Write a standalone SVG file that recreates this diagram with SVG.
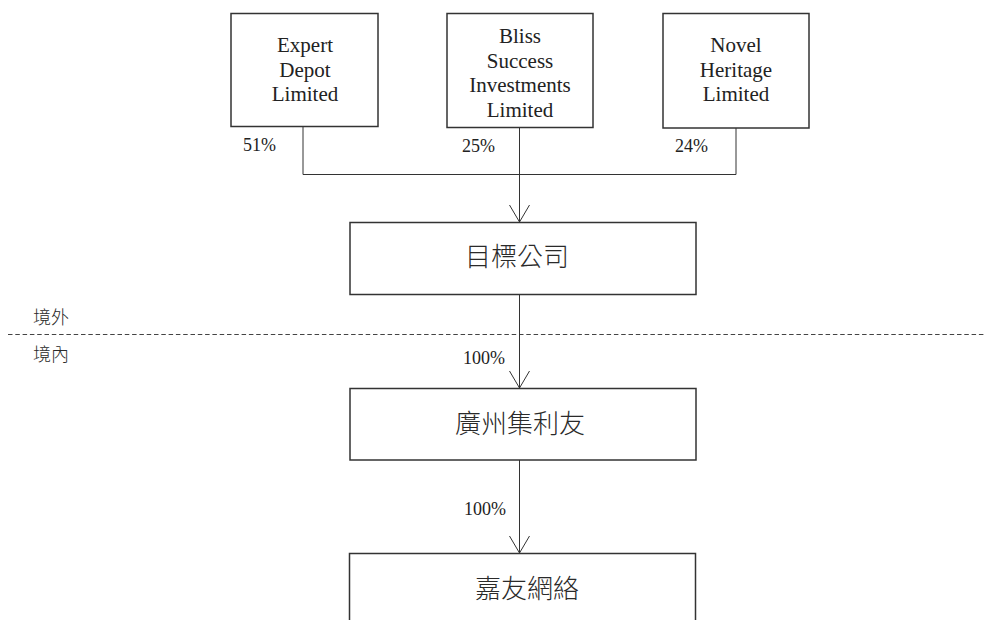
<svg xmlns="http://www.w3.org/2000/svg" width="986" height="620" viewBox="0 0 986 620">
<style>
.box{fill:#fff;stroke:#333;stroke-width:1.5}
.en{font-family:"Liberation Serif","Noto Serif",serif;font-size:21px;fill:#222;text-anchor:middle}
.pct{font-family:"Liberation Serif","Noto Serif",serif;font-size:18px;fill:#222}
.cjk{font-family:"Liberation Serif","Noto Sans CJK TC",serif;font-size:26px;font-weight:300;fill:#2a2a2a;text-anchor:middle}
.side{font-family:"Liberation Serif","Noto Sans CJK TC",serif;font-size:18px;font-weight:300;fill:#2a2a2a}
.ln{fill:none;stroke:#333;stroke-width:1}
</style>
<defs>
<marker id="v" markerUnits="userSpaceOnUse" markerWidth="40" markerHeight="40" viewBox="-20 -20 40 40" refX="0" refY="0" orient="auto">
<path d="M-17,-10 L0,0 L-17,10" fill="none" stroke="#333" stroke-width="1"/>
</marker>
</defs>
<g id="divider">
<line x1="8" y1="334.5" x2="986" y2="334.5" stroke="#444" stroke-width="1" stroke-dasharray="4.5 2.8"/>
<text class="side" x="33" y="324">境外</text>
<text class="side" x="33" y="361">境內</text>
</g>
<g id="connectors">
<polyline class="ln" points="303,127 303,174.5 736,174.5 736,128"/>
<line class="ln" x1="519.5" y1="128" x2="519.5" y2="222" marker-end="url(#v)"/>
<line class="ln" x1="519.5" y1="294" x2="519.5" y2="388" marker-end="url(#v)"/>
<line class="ln" x1="519.5" y1="460" x2="519.5" y2="553" marker-end="url(#v)"/>
<text class="pct" x="243" y="151">51%</text>
<text class="pct" x="462" y="152">25%</text>
<text class="pct" x="675" y="152">24%</text>
<text class="pct" x="463" y="364">100%</text>
<text class="pct" x="464" y="515">100%</text>
</g>
<g id="expert">
<rect class="box" x="231" y="13.5" width="147" height="113"/>
<text class="en" x="305" y="52">Expert</text>
<text class="en" x="305" y="76.5">Depot</text>
<text class="en" x="305" y="101">Limited</text>
</g>
<g id="bliss">
<rect class="box" x="447" y="13.5" width="146" height="114"/>
<text class="en" x="520" y="43">Bliss</text>
<text class="en" x="520" y="67.5">Success</text>
<text class="en" x="520" y="92">Investments</text>
<text class="en" x="520" y="116.5">Limited</text>
</g>
<g id="novel">
<rect class="box" x="663" y="13.5" width="146" height="114.5"/>
<text class="en" x="736" y="52">Novel</text>
<text class="en" x="736" y="76.5">Heritage</text>
<text class="en" x="736" y="101">Limited</text>
</g>
<g id="target">
<rect class="box" x="350" y="222.5" width="346" height="72"/>
<text class="cjk" x="517" y="266">目標公司</text>
</g>
<g id="guangzhou">
<rect class="box" x="350" y="388.5" width="346" height="71.5"/>
<text class="cjk" x="520" y="433">廣州集利友</text>
</g>
<g id="jiayou">
<rect class="box" x="349.5" y="553.5" width="346" height="80"/>
<text class="cjk" x="527" y="598">嘉友網絡</text>
</g>
</svg>
